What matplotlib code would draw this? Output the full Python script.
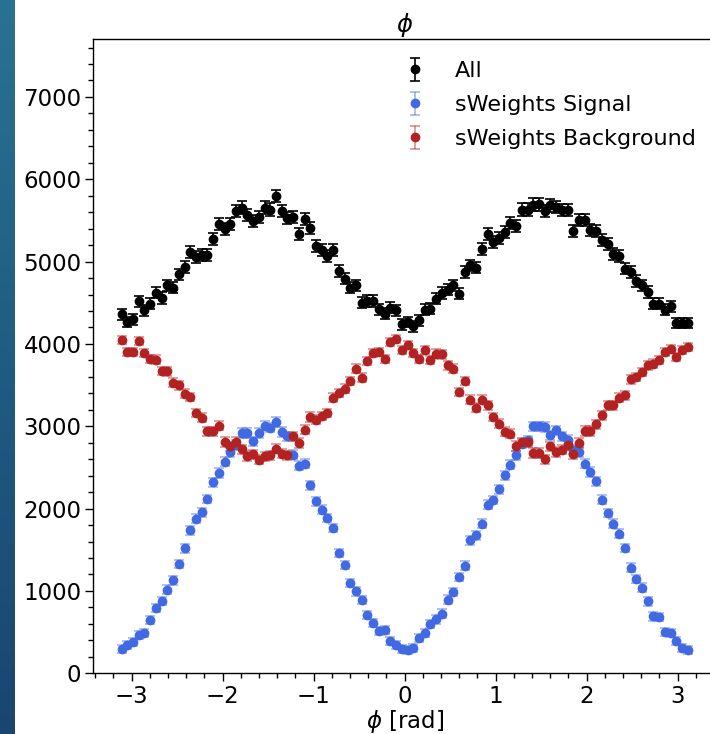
import numpy as np
import matplotlib
matplotlib.use("Agg")
import matplotlib.pyplot as plt
from matplotlib.ticker import MultipleLocator

# 100 bins in phi over [-pi, pi]
n_bins = 100
edges = np.linspace(-np.pi, np.pi, n_bins + 1)
centers = 0.5 * (edges[1:] + edges[:-1])

# counts
all_counts = [
    4360, 4267, 4299, 4518, 4408, 4489, 4623, 4558, 4712, 4684,
    4846, 4935, 5117, 5056, 5077, 5077, 5279, 5461, 5400, 5461,
    5615, 5656, 5562, 5490, 5542, 5656, 5631, 5797, 5611, 5530,
    5542, 5332, 5522, 5413, 5186, 5137, 5064, 5137, 4886, 4793,
    4684, 4712, 4502, 4522, 4522, 4421, 4368, 4441, 4408, 4238,
    4267, 4214, 4287, 4417, 4429, 4550, 4619, 4660, 4712, 4611,
    4874, 4955, 4927, 5157, 5332, 5239, 5291, 5360, 5469, 5429,
    5631, 5631, 5692, 5696, 5615, 5684, 5664, 5623, 5623, 5372,
    5502, 5510, 5388, 5372, 5259, 5218, 5089, 5064, 4915, 4874,
    4765, 4712, 4631, 4489, 4489, 4417, 4457, 4255, 4255, 4255,
]

signal_counts = [
    291, 339, 380, 461, 493, 647, 793, 878, 1015, 1129,
    1327, 1518, 1736, 1878, 1955, 2117, 2319, 2433, 2570, 2684,
    2773, 2918, 2918, 2817, 2918, 3008, 2983, 3052, 2930, 2878,
    2655, 2522, 2546, 2283, 2088, 1987, 1886, 1765, 1461, 1315,
    1096, 995, 886, 704, 611, 509, 521, 396, 339, 291,
    278, 311, 432, 485, 598, 655, 724, 894, 987, 1173,
    1307, 1615, 1675, 1817, 2048, 2105, 2238, 2404, 2534, 2647,
    2790, 2830, 2999, 2999, 2991, 2890, 2951, 2878, 2837, 2716,
    2688, 2546, 2445, 2335, 2109, 1947, 1817, 1696, 1522, 1283,
    1145, 1040, 874, 691, 683, 501, 489, 388, 311, 278,
]

background_counts = [
    4044, 3902, 3902, 4036, 3894, 3821, 3809, 3668, 3668, 3530,
    3497, 3396, 3356, 3161, 3105, 2939, 2939, 3008, 2809, 2757,
    2809, 2720, 2639, 2659, 2595, 2635, 2647, 2728, 2667, 2647,
    2878, 2797, 2959, 3113, 3080, 3125, 3161, 3348, 3404, 3457,
    3550, 3700, 3591, 3793, 3890, 3902, 3821, 4024, 4064, 3923,
    3983, 3890, 3821, 3923, 3809, 3882, 3874, 3740, 3700, 3416,
    3550, 3323, 3226, 3323, 3255, 3113, 3032, 2931, 2910, 2761,
    2805, 2805, 2676, 2676, 2599, 2757, 2688, 2716, 2769, 2659,
    2797, 2943, 2943, 3024, 3133, 3255, 3255, 3348, 3376, 3570,
    3599, 3659, 3740, 3761, 3801, 3902, 3943, 3842, 3931, 3963,
]

all_counts = np.array(all_counts, dtype=float)
signal_counts = np.array(signal_counts, dtype=float)
background_counts = np.array(background_counts, dtype=float)
err_all = np.sqrt(all_counts)
err_sw = 0.75 * err_all  # sWeights bars look a bit shorter

plt.rcParams['font.family'] = ['DejaVu Sans']
plt.rcParams['mathtext.fontset'] = 'dejavusans'
fs = 16

fig = plt.figure(figsize=(7.10, 7.34), dpi=100)

# dark strip on the left edge of the screenshot
strip = fig.add_axes([0, 0, 14 / 710, 1])
grad = np.linspace(0, 1, 256).reshape(-1, 1)
strip_cmap = matplotlib.colors.LinearSegmentedColormap.from_list(
    "strip", ["#2a7292", "#1f5c82", "#1a4571"])
strip.imshow(grad, aspect='auto', cmap=strip_cmap)
strip.set_axis_off()

ax = fig.add_axes([93.3 / 710, 1 - 673.3 / 734, (716 - 93.3) / 710, (673.3 - 39.3) / 734])

ax.errorbar(centers, all_counts, yerr=err_all, fmt='o', color='black', ms=6,
            capsize=3.5, elinewidth=1.2, capthick=1.2, label='All')
ax.errorbar(centers, signal_counts, yerr=err_sw, fmt='o', color='royalblue', ms=6,
            ecolor=(0.255, 0.41, 0.88, 0.5), capsize=3.5, elinewidth=1.2, capthick=1.2,
            label='sWeights Signal')
ax.errorbar(centers, background_counts, yerr=err_sw, fmt='o', color='firebrick', ms=6,
            ecolor=(0.7, 0.13, 0.13, 0.5), capsize=3.5, elinewidth=1.2, capthick=1.2,
            label='sWeights Background')

ax.set_ylim(0, 7700)
ax.xaxis.set_major_locator(MultipleLocator(1))
ax.xaxis.set_minor_locator(MultipleLocator(0.2))
ax.yaxis.set_major_locator(MultipleLocator(1000))
ax.yaxis.set_minor_locator(MultipleLocator(200))
ax.tick_params(which='major', length=6, width=1, labelsize=16.5, pad=2.5)
ax.tick_params(which='minor', length=3.6, width=1)
for s in ax.spines.values():
    s.set_linewidth(1)

ax.set_title(r'$\phi$', fontsize=17.5, pad=4)
ax.set_xlabel(r'$\phi$ [rad]', fontsize=16.5, labelpad=0)

ax.legend(loc='upper left', bbox_to_anchor=(0.449, 0.997), frameon=False,
          fontsize=fs, labelspacing=0.63)

fig.savefig('out.png', dpi=100)
